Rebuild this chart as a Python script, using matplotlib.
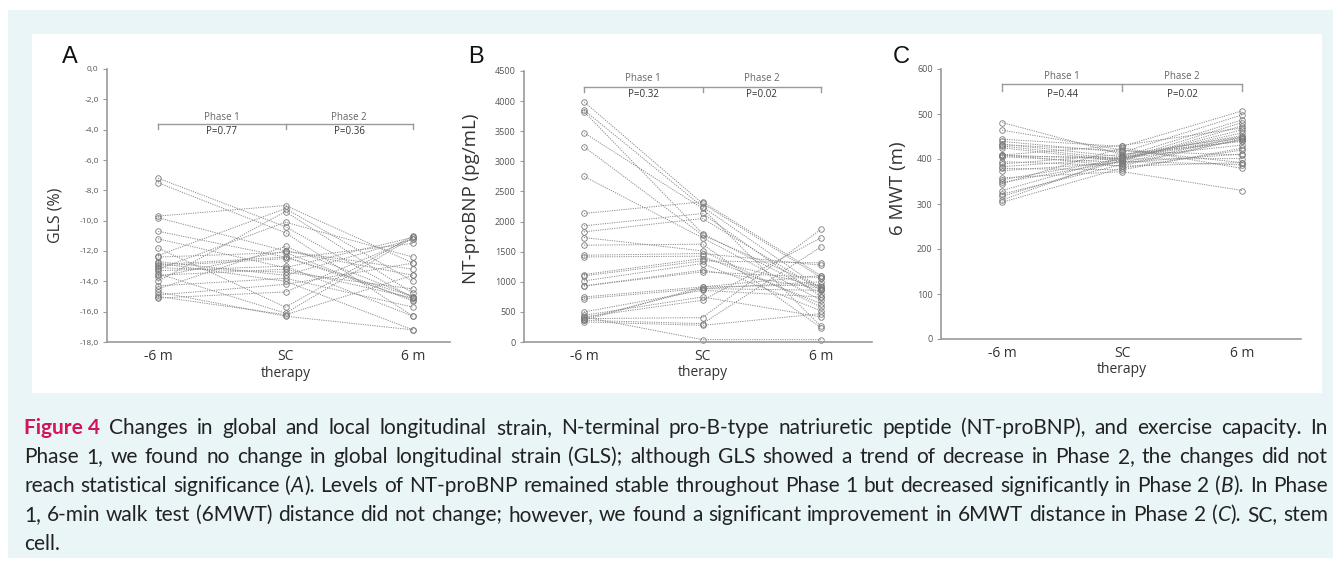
import matplotlib
matplotlib.use('Agg')
import matplotlib.pyplot as plt
import matplotlib.transforms as mtransforms
from matplotlib.patches import Rectangle

# time points on the x axis
time_labels = ['-6 m', 'SC', '6 m']

# GLS (%) per patient: before, at SC therapy, after
gls_pre = [-7.2, -7.5, -9.7, -9.8, -10.7, -11.2, -11.8, -12.3, -12.4, -12.7, -12.8, -13.0, -13.1,
           -13.2, -13.5, -13.6, -13.7, -14.0, -14.3, -14.5, -14.7, -14.9, -15.0, -15.1, -13.3, -12.9]
gls_sc = [-10.4, -10.8, -9.0, -12.0, -12.4, -13.1, -15.7, -9.2, -12.1, -13.6, -14.0, -12.5, -13.4,
          -10.1, -16.1, -13.2, -12.0, -9.4, -13.8, -11.7, -16.3, -14.2, -16.2, -14.7, -13.0, -12.4]
gls_post = [-15.1, -16.3, -12.8, -13.6, -15.0, -11.1, -11.0, -14.0, -15.3, -11.2, -17.2, -11.5, -14.5,
            -12.4, -11.1, -15.1, -13.2, -14.8, -15.7, -15.0, -17.2, -12.8, -13.6, -11.2, -16.3, -15.2]

# NT-proBNP (pg/mL)
bnp_pre = [3990, 3852, 3825, 3475, 3243, 2750, 2134, 1929, 1829, 1735, 1608, 1441, 1413, 1120, 1098,
           1014, 931, 931, 748, 720, 499, 443, 416, 388, 360, 333, 416, 388, 360]
bnp_sc = [2300, 2245, 1801, 2217, 1774, 1730, 2328, 2134, 2051, 1513, 1624, 1469, 1425, 1386, 1347,
          1303, 1192, 1164, 915, 887, 859, 748, 693, 405, 305, 277, 39, 887, 915]
bnp_post = [1070, 887, 804, 260, 916, 693, 1103, 748, 859, 582, 238, 1275, 637, 916, 1314,
            516, 887, 1070, 1103, 859, 748, 416, 1730, 1874, 1580, 470, 39, 1000, 950]

# 6MWT distance (m)
mwt_pre = [481, 464, 444, 439, 433, 429, 425, 409, 408, 405, 394, 389, 383, 379, 374, 358, 354,
           348, 345, 330, 322, 317, 309, 304, 407, 410, 432]
mwt_sc = [410, 420, 428, 415, 405, 399, 395, 430, 400, 392, 385, 410, 402, 376, 392, 372, 400,
          395, 425, 405, 388, 398, 404, 380, 403, 384, 418]
mwt_post = [449, 392, 507, 498, 487, 481, 474, 469, 458, 449, 444, 439, 431, 424, 411, 330, 401,
            387, 379, 452, 445, 465, 441, 420, 447, 392, 409]

p_values_a = ['P=0.77', 'P=0.36']
p_values_b = ['P=0.32', 'P=0.02']
p_values_c = ['P=0.44', 'P=0.02']

caption_lines = [
    '^Figure\u00a04 Changes in global and local longitudinal strain, N-terminal pro-B-type natriuretic peptide (NT-proBNP), and exercise capacity. In',
    'Phase 1, we found no change in global longitudinal strain (GLS); although GLS showed a trend of decrease in Phase 2, the changes did not',
    'reach statistical significance (_A_). Levels of NT-proBNP remained stable throughout Phase 1 but decreased significantly in Phase 2 (_B_). In Phase',
    '1, 6-min walk test (6MWT) distance did not change; however, we found a significant improvement in 6MWT distance in Phase 2 (_C_). SC, stem',
    'cell.',
]

W, H = 1333, 567
fig = plt.figure(figsize=(W / 100, H / 100), dpi=100)
fig.patch.set_facecolor('white')


def fx(x):
    return x / W


def fy(y):
    return 1 - y / H


def box(x0, y0, x1, y1, color):
    fig.add_artist(Rectangle((fx(x0), fy(y1)), fx(x1) - fx(x0), (y1 - y0) / H,
                             transform=fig.transFigure, facecolor=color, edgecolor='none', zorder=-10))


box(8, 10, 1333, 558, '#eaf5f7')
box(32, 34, 1322, 393, 'white')

chart_font = 'Open Sans'
grey = '#9a9a9a'


def panel(rect, pre, sc, post, ylim, yticks, fmt, ylabel, label_size, label_xy, xlim, pvals, br, tick_size):
    left, top, right, bottom = rect
    ax = fig.add_axes([fx(left), fy(bottom), fx(right) - fx(left), (bottom - top) / H])
    ax.set_facecolor('none')
    xs = [0, 1, 2]
    for a, b, c in zip(pre, sc, post):
        ax.plot(xs, [a, b, c], linestyle=(0, (1.2, 1.2)), linewidth=0.7, color='#8a8a8a',
                marker='o', markersize=4, markerfacecolor='none', markeredgecolor='#7a7a7a',
                markeredgewidth=0.6, clip_on=False)
    ax.set_xlim(*xlim)
    ax.set_ylim(*ylim)
    ax.set_yticks(yticks)
    ax.set_yticklabels([fmt(v) for v in yticks], fontsize=tick_size, color='#555', family=chart_font)
    ax.set_xticks(xs)
    ax.set_xticklabels(time_labels, fontsize=10, color='#333', family=chart_font)
    ax.tick_params(axis='x', length=0, pad=5)
    ax.tick_params(axis='y', length=3, width=0.8, color=grey, pad=3)
    for s in ['top', 'right']:
        ax.spines[s].set_visible(False)
    for s in ['left', 'bottom']:
        ax.spines[s].set_color(grey)
        ax.spines[s].set_linewidth(1.2)
    ax.set_ylabel(ylabel, fontsize=label_size, color='#333', family=chart_font)
    ax.yaxis.set_label_coords(*label_xy)
    trans = mtransforms.blended_transform_factory(ax.transData, ax.transAxes)
    ax.text(1, -0.114, 'therapy', transform=trans, ha='center', va='center',
            fontsize=10, color='#333', family=chart_font)

    # phase brackets
    line_y, tick_y, phase_y, p_y = br
    ax.plot([0, 2], [line_y, line_y], color=grey, linewidth=1, clip_on=False)
    for x in xs:
        ax.plot([x, x], [line_y, tick_y], color=grey, linewidth=1, clip_on=False)
    for i, (name, p) in enumerate(zip(['Phase 1', 'Phase 2'], pvals)):
        ax.text(i + 0.5, phase_y, name, ha='center', va='center', fontsize=7, color='#666', family=chart_font)
        ax.text(i + 0.5, p_y, p, ha='center', va='center', fontsize=7, color='#333', family=chart_font)
    return ax


panel((107, 69, 450, 342), gls_pre, gls_sc, gls_post, (-18, 0), list(range(0, -19, -2)),
      lambda v: f'{v:.1f}'.replace('.', ','), 'GLS (%)', 11.5, (-0.128, 0.465), (-0.4, 2.29),
      p_values_a, (-3.63, -3.95, -3.18, -4.15), 6)
panel((524, 71, 872, 342), bnp_pre, bnp_sc, bnp_post, (0, 4500), list(range(0, 4501, 500)),
      lambda v: f'{v}', 'NT-proBNP (pg/mL)', 13.5, (-0.126, 0.528), (-0.506, 2.43),
      p_values_b, (4241, 4158, 4380, 4103), 6.5)
panel((941, 69, 1301, 339), mwt_pre, mwt_sc, mwt_post, (0, 600), list(range(0, 601, 100)),
      lambda v: f'{v}', '6 MWT (m)', 13.5, (-0.094, 0.56), (-0.51, 2.49),
      p_values_c, (566, 552, 583, 544), 6.5)

for letter, x in [('A', 62), ('B', 468), ('C', 893)]:
    fig.text(fx(x), fy(57), letter, ha='left', va='center', fontsize=17,
             family='Liberation Sans', color='#111')

# justified caption
renderer = fig.canvas.get_renderer()
cap_base = dict(family='Lato', fontsize=12.5, color='#222')


def run_style(kind):
    st = dict(cap_base)
    if kind == 'italic':
        st['style'] = 'italic'
    elif kind == 'bold':
        st.update(weight='bold', color='#d4145a')
    return st


def split_word(word):
    if word.startswith('^'):
        return [(word[1:], 'bold')]
    runs = []
    italic = False
    for part in word.split('_'):
        if part:
            runs.append((part, 'italic' if italic else 'normal'))
        italic = not italic
    return runs


def text_width(s, st):
    t = fig.text(0, 0, s, **st)
    w = t.get_window_extent(renderer).width
    t.remove()
    return w


def natural_width(line):
    words = [split_word(w) for w in line.split(' ')]
    sp = text_width('a a', cap_base) - text_width('aa', cap_base)
    return sum(text_width(s, run_style(k)) for w in words for s, k in w) + sp * (len(words) - 1)


x_left, x_right = 24, 1328
# scale caption font so that the longest line just fits
longest = max(natural_width(l) for l in caption_lines)
cap_base['fontsize'] = cap_base['fontsize'] * (x_right - x_left - 4) / longest

space_w = text_width('a a', cap_base) - text_width('aa', cap_base)
baselines = [434, 463, 492, 521, 550]

for i, line in enumerate(caption_lines):
    words = [split_word(w) for w in line.split(' ')]
    widths = [sum(text_width(s, run_style(k)) for s, k in w) for w in words]
    if i < len(caption_lines) - 1 and len(words) > 1:
        gap = (x_right - x_left - sum(widths)) / (len(words) - 1)
    else:
        gap = space_w
    x = x_left
    for w, ww in zip(words, widths):
        xr = x
        for s, k in w:
            st = run_style(k)
            fig.text(fx(xr), fy(baselines[i]), s, ha='left', va='baseline', **st)
            xr += text_width(s, st)
        x += ww + gap

fig.savefig('out.png', dpi=100)
